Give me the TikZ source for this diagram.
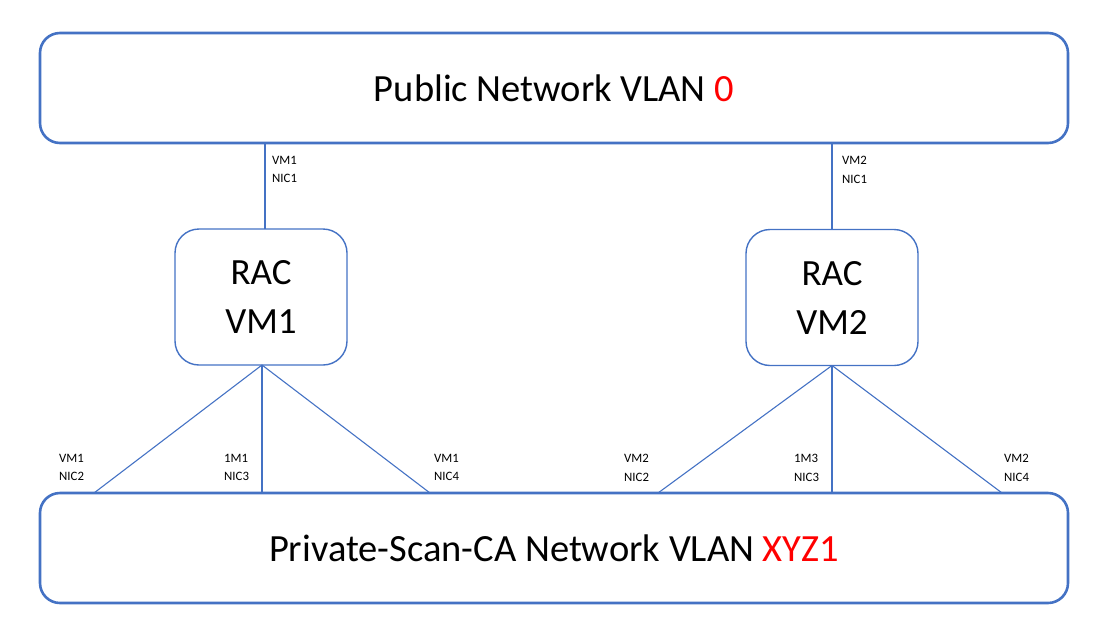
\documentclass[tikz,border=0pt]{standalone}
\usepackage{fontspec}
\setmainfont{Carlito}
\definecolor{linkblue}{HTML}{4472C4}
\definecolor{vlanred}{HTML}{FF0000}
\begin{document}
\begin{tikzpicture}[x=1pt,y=-1pt,
  netbox/.style={draw=linkblue,line width=2.6pt,rounded corners=20pt,minimum width=1028pt,minimum height=110pt,inner sep=0pt,font=\fontsize{38.5}{46}\selectfont},
  vmbox/.style={draw=linkblue,line width=1.4pt,rounded corners=24pt,minimum width=172pt,minimum height=136pt,inner sep=0pt,align=center,font=\fontsize{37}{49}\selectfont},
  link/.style={draw=linkblue,line width=1.1pt},
  niclabel/.style={inner sep=0pt,align=left,anchor=north west,font=\fontsize{12.8}{18.5}\selectfont}]
\useasboundingbox (0,0) rectangle (1108,627);
% networks
\node[netbox] (pub) at (554,88) {Public Network VLAN \textcolor{vlanred}{0}};
\node[netbox] (priv) at (554,548) {Private-Scan-CA Network VLAN \textcolor{vlanred}{XYZ1}};
% virtual machines
\node[vmbox] (vm1) at (261,297) {RAC\\VM1};
\node[vmbox] (vm2) at (832,297.5) {RAC\\VM2};
% attachment points on the private network
\coordinate (a1) at (94,493);
\coordinate (a2) at (262,493);
\coordinate (a3) at (430,493);
\coordinate (b1) at (658,493);
\coordinate (b2) at (832,493);
\coordinate (b3) at (1002,493);
\coordinate (v1) at (262,365);
\coordinate (v2) at (832,365.5);
% public links
\draw[link] (265,143) -- (265,229);
\draw[link] (832,143) -- (832,229);
% private links
\draw[link] (v1) -- (a1);
\draw[link] (v1) -- (a2);
\draw[link] (v1) -- (a3);
\draw[link] (v2) -- (b1);
\draw[link] (v2) -- (b2);
\draw[link] (v2) -- (b3);
% interface labels
\node[niclabel] (l11) at (272,156) {VM1\\NIC1};
\node[niclabel] (l21) at (842,156) {VM2\\NIC1};
\node[niclabel] (l12) at (59,454) {VM1\\NIC2};
\node[niclabel] (l13) at (224,454) {1M1\\NIC3};
\node[niclabel] (l14) at (434,454) {VM1\\NIC4};
\node[niclabel] (l22) at (624,454) {VM2\\NIC2};
\node[niclabel] (l23) at (794,454) {1M3\\NIC3};
\node[niclabel] (l24) at (1004,454) {VM2\\NIC4};
\end{tikzpicture}
\end{document}
